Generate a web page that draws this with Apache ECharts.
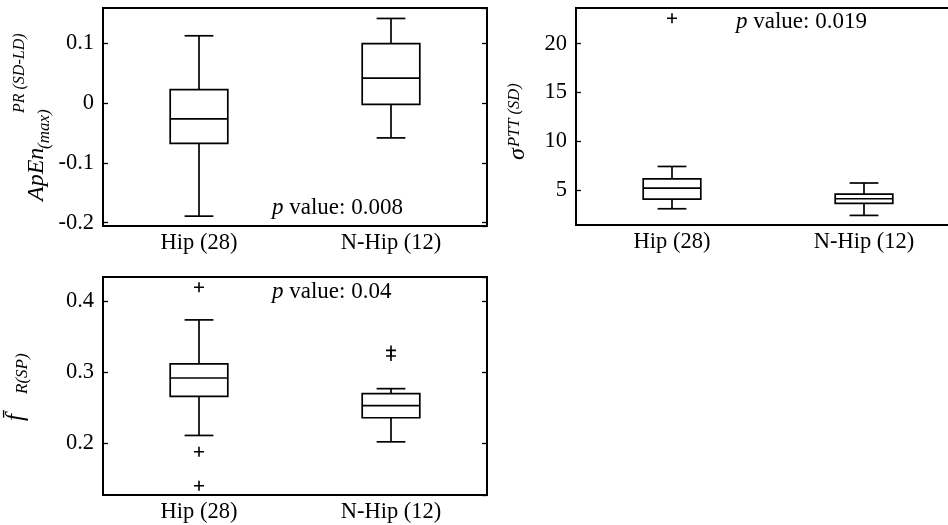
<!DOCTYPE html>
<html>
<head>
<meta charset="utf-8">
<script src="https://cdn.jsdelivr.net/npm/echarts@6/dist/echarts.min.js"></script>
<style>
html,body{margin:0;padding:0;background:#fff;}
#c{width:948px;height:525px;}
</style>
</head>
<body>
<div id="c"></div>
<script>
// ---- data ----
const categories = ['Hip (28)', 'N-Hip (12)'];
// [lower whisker, Q1, median, Q3, upper whisker]
const apenHip = [-0.189, -0.067, -0.026, 0.023, 0.113];
const apenNHip = [-0.058, -0.002, 0.042, 0.100, 0.142];
const sigmaHip = [3.13, 4.12, 5.24, 6.19, 7.45];
const sigmaNHip = [2.45, 3.67, 4.15, 4.63, 5.76];
const sigmaOutliersHip = [22.6];
const sigmaOutliersNHip = [];
const fHip = [0.211, 0.266, 0.292, 0.312, 0.374];
const fNHip = [0.202, 0.236, 0.253, 0.270, 0.277];
const fOutliersHip = [0.420, 0.188, 0.140];
const fOutliersNHip = [0.331, 0.323];
const pTexts = ['0.008', '0.019', '0.04'];

const FONT = '"Liberation Serif", "Times New Roman", serif';

function boxData(a, b) {
  return [[0].concat(a), [1].concat(b)];
}
function outlierData(a, b) {
  return a.map(v => [0, v]).concat(b.map(v => [1, v]));
}

function renderBox(params, api) {
  const x = api.value(0);
  const lo = api.coord([x, api.value(1)]);
  const q1 = api.coord([x, api.value(2)]);
  const md = api.coord([x, api.value(3)]);
  const q3 = api.coord([x, api.value(4)]);
  const hi = api.coord([x, api.value(5)]);
  const band = api.size([1, 0])[0];
  const bw = band * 0.3;
  const cw = bw / 2;
  const cx = lo[0];
  const st = {stroke: '#000', lineWidth: 1.7, fill: null};
  const L = (x1, y1, x2, y2) => ({type: 'line', shape: {x1, y1, x2, y2}, style: st});
  return {
    type: 'group',
    children: [
      {type: 'rect', shape: {x: cx - bw / 2, y: q3[1], width: bw, height: q1[1] - q3[1]}, style: {stroke: '#000', lineWidth: 1.7, fill: 'none'}},
      L(cx - bw / 2, md[1], cx + bw / 2, md[1]),
      L(cx, q3[1], cx, hi[1]),
      L(cx, q1[1], cx, lo[1]),
      L(cx - cw / 2, hi[1], cx + cw / 2, hi[1]),
      L(cx - cw / 2, lo[1], cx + cw / 2, lo[1])
    ]
  };
}

const grids = [
  {left: 103, top: 8, width: 384, height: 218},
  {left: 576, top: 8, width: 384, height: 217},
  {left: 103, top: 277, width: 384, height: 218}
];
const ranges = [[-0.2055, 0.1595], [1.47, 23.64], [0.127, 0.4345]];
const steps = [0.1, 5, 0.1];
const splits = [3, 4, 3];

function labelFmt(step) {
  return function (v) {
    const r = Math.round(v / step) * step;
    if (Math.abs(v - r) > step * 1e-4) return '';
    return String(+r.toFixed(3));
  };
}

const xAxis = [], yAxis = [], series = [];
grids.forEach((g, i) => {
  xAxis.push({
    type: 'category', gridIndex: i, data: categories, boundaryGap: true,
    axisLine: {show: false}, axisTick: {show: false}, splitLine: {show: false},
    axisLabel: {fontFamily: FONT, fontSize: 22.5, color: '#000', margin: 6}
  });
  yAxis.push({
    type: 'value', gridIndex: i, min: ranges[i][0], max: ranges[i][1], splitNumber: splits[i],
    position: 'left', splitLine: {show: false}, axisLine: {show: false},
    axisTick: {show: true, inside: true, length: 5, lineStyle: {color: '#000', width: 1.3}},
    axisLabel: {fontFamily: FONT, fontSize: 22.5, color: '#000', margin: 9, formatter: labelFmt(steps[i]), showMinLabel: false, showMaxLabel: false}
  });
  yAxis.push({
    type: 'value', gridIndex: i, min: ranges[i][0], max: ranges[i][1], splitNumber: splits[i],
    position: 'right', splitLine: {show: false}, axisLine: {show: false},
    axisTick: {show: true, inside: true, length: 5, lineStyle: {color: '#000', width: 1.3}},
    axisLabel: {show: false}
  });
});

const boxes = [boxData(apenHip, apenNHip), boxData(sigmaHip, sigmaNHip), boxData(fHip, fNHip)];
const outs = [[], outlierData(sigmaOutliersHip, sigmaOutliersNHip), outlierData(fOutliersHip, fOutliersNHip)];
boxes.forEach((d, i) => {
  series.push({
    type: 'custom', xAxisIndex: i, yAxisIndex: i * 2, renderItem: renderBox,
    encode: {x: 0, y: [1, 2, 3, 4, 5]}, data: d, silent: true, animation: false, clip: false
  });
  if (outs[i].length) {
    series.push({
      type: 'scatter', xAxisIndex: i, yAxisIndex: i * 2, data: outs[i],
      symbol: 'path://M0,-5L0,5M-5,0L5,0', symbolSize: 10,
      itemStyle: {color: 'rgba(0,0,0,0)', borderColor: '#000', borderWidth: 1.6, opacity: 1},
      silent: true, animation: false
    });
  }
});

function ptext(x, y, v) {
  return {
    type: 'text', x: x, y: y, silent: true,
    style: {
      text: '{i|p} value: ' + v, font: '23px ' + FONT, fill: '#000',
      verticalAlign: 'middle', align: 'left',
      rich: {i: {fontStyle: 'italic', fontFamily: FONT, fontSize: 23, fill: '#000'}}
    }
  };
}
function vtext(x, y, s, size) {
  return {
    type: 'text', x: x, y: y, rotation: Math.PI / 2, silent: true,
    style: {text: s, font: 'italic ' + size + 'px ' + FONT, fill: '#000', align: 'left', verticalAlign: 'middle'}
  };
}

const graphic = [
  ptext(272, 208, pTexts[0]),
  ptext(736, 22, pTexts[1]),
  ptext(272, 292, pTexts[2]),
  // plot 1 y label
  vtext(37, 201, 'ApEn', 24),
  vtext(45, 149, '(max)', 17),
  vtext(19.5, 113, 'PR (SD-LD)', 16),
  // plot 2 y label
  vtext(518, 160, 'σ', 24),
  vtext(514.5, 147, 'PTT (SD)', 16.5),
  // plot 3 y label
  vtext(16, 421, 'f\u0304', 25),
  vtext(23, 394, 'R(SP)', 17)
];

const chart = echarts.init(document.getElementById('c'), null, {renderer: 'canvas'});
chart.setOption({
  animation: false,
  backgroundColor: '#fff',
  grid: grids.map(g => Object.assign({show: true, borderColor: '#000', borderWidth: 2, backgroundColor: 'transparent', outerBoundsMode: 'none', containLabel: false}, g)),
  xAxis: xAxis,
  yAxis: yAxis,
  series: series,
  graphic: graphic
});
</script>
</body>
</html>
